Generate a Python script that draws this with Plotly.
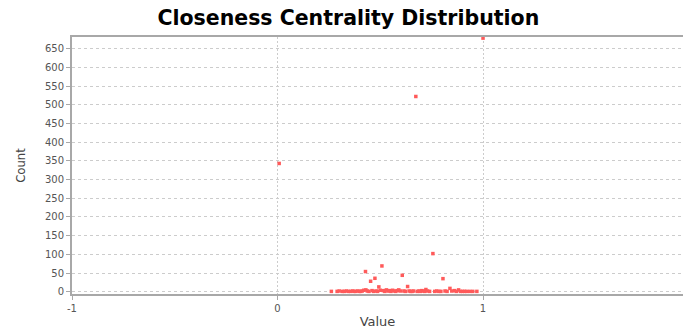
import plotly.graph_objects as go

# Closeness centrality values (x) and their counts (y)
outlier_x = [0.008, 0.673, 1.0]
outlier_y = [343, 522, 678]

mid_x = [0.428, 0.508, 0.453, 0.474, 0.493, 0.607, 0.633, 0.756, 0.805, 0.839, 0.861, 0.881, 0.722]
mid_y = [54, 69, 28, 36, 13, 44, 14, 102, 35, 9, 3, 5, 6]

base_x = [0.262, 0.29, 0.30, 0.315, 0.325, 0.335, 0.345, 0.355, 0.365, 0.372, 0.38, 0.39,
          0.398, 0.405, 0.412, 0.42, 0.43, 0.437, 0.445, 0.46, 0.468, 0.48, 0.487, 0.50,
          0.515, 0.522, 0.53, 0.538, 0.545, 0.552, 0.56, 0.568, 0.575, 0.583, 0.59, 0.598,
          0.615, 0.622, 0.64, 0.648, 0.655, 0.662, 0.68, 0.688, 0.695, 0.702, 0.71, 0.716,
          0.73, 0.74, 0.765, 0.775, 0.785, 0.795, 0.815, 0.825, 0.848, 0.87, 0.89, 0.9,
          0.91, 0.92, 0.935, 0.95, 0.97]
base_y = [1, 1, 2, 1, 1, 2, 1, 1, 2, 1, 1, 2,
          1, 1, 2, 4, 5, 2, 1, 3, 1, 2, 1, 4,
          3, 1, 5, 2, 3, 1, 4, 2, 1, 3, 5, 2,
          2, 1, 2, 1, 1, 2, 1, 2, 1, 3, 2, 1,
          2, 1, 1, 2, 1, 1, 2, 1, 2, 1, 1, 1,
          1, 1, 1, 1, 1]

x_vals = outlier_x + mid_x + base_x
y_vals = outlier_y + mid_y + base_y

y_ticks = [0, 50, 100, 150, 200, 250, 300, 350, 400, 450, 500, 550, 600, 650]
x_ticks = [-1, 0, 1]

fig = go.Figure()
fig.add_trace(go.Scatter(
    x=x_vals, y=y_vals, mode="markers",
    marker=dict(symbol="square", size=3.5, color="#ff5a5a", line=dict(width=0)),
    showlegend=False, cliponaxis=False,
))

fig.update_layout(
    width=683, height=329,
    margin=dict(l=72, r=0, t=37, b=32),
    paper_bgcolor="white", plot_bgcolor="white",
    title=dict(text="<b>Closeness Centrality Distribution</b>", x=0.51, xanchor="center",
               y=1 - 18 / 329, yanchor="middle", yref="container",
               font=dict(family="DejaVu Sans", size=20.5, color="#000000")),
    xaxis=dict(range=[-1, 1.973], tickvals=x_ticks, ticktext=[str(v) for v in x_ticks],
               showgrid=True, gridcolor="#cccccc", griddash="2px,2px", gridwidth=1,
               zeroline=False, showline=True, linecolor="#a8a8a8", linewidth=2, mirror=True,
               ticks="outside", ticklen=4, tickcolor="#a8a8a8",
               tickfont=dict(family="DejaVu Sans", size=10, color="#555555"),
               title=dict(text="Value", standoff=6,
                          font=dict(family="DejaVu Sans", size=13, color="#444444"))),
    yaxis=dict(range=[-6, 681], tickvals=y_ticks,
               showgrid=True, gridcolor="#cccccc", griddash="3px,3px", gridwidth=1,
               zeroline=False, showline=True, linecolor="#a8a8a8", linewidth=2,
               ticks="outside", ticklen=4, tickcolor="#a8a8a8",
               tickfont=dict(family="DejaVu Sans", size=10, color="#555555"),
               title=dict(text="Count", standoff=16,
                          font=dict(family="Liberation Sans Narrow, DejaVu Sans Condensed", size=13,
                                    color="#444444"))),
)

fig.write_html("out.html")
